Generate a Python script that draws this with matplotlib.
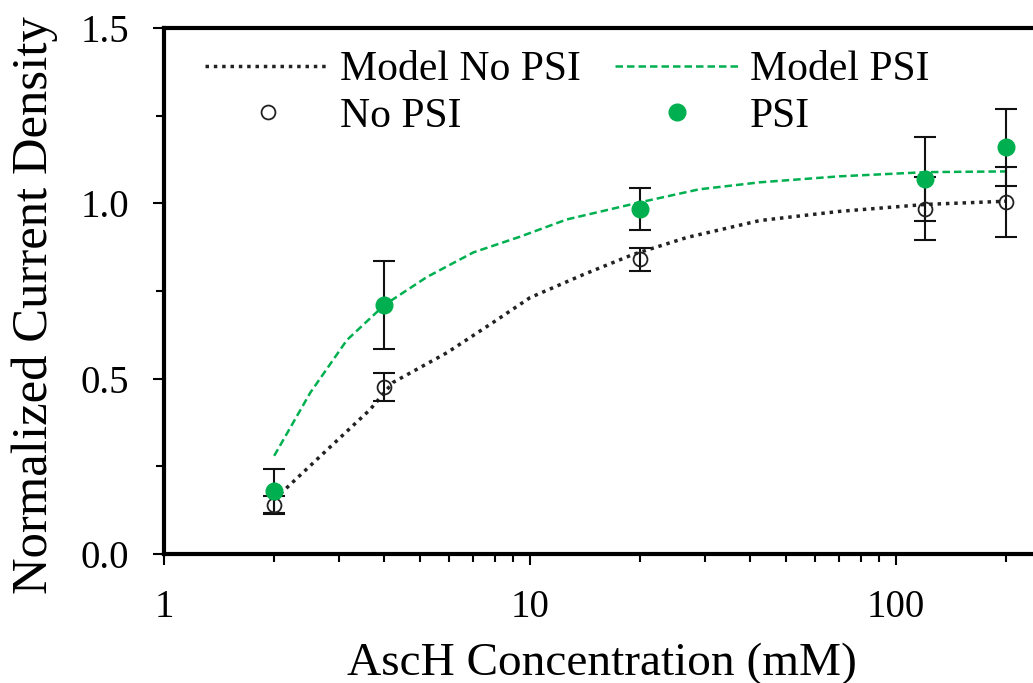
import numpy as np
import matplotlib
matplotlib.use('Agg')
import matplotlib.pyplot as plt
from matplotlib.ticker import FixedLocator, FixedFormatter, LogLocator, MultipleLocator, FormatStrFormatter

plt.rcParams['font.family'] = ['Liberation Serif', 'DejaVu Serif']

# measured data
conc = [2, 4, 20, 120, 200]
no_psi = [0.14, 0.475, 0.84, 0.985, 1.003]
no_psi_err = [0.025, 0.04, 0.033, 0.09, 0.10]
psi = [0.18, 0.71, 0.983, 1.07, 1.16]
psi_err = [0.063, 0.125, 0.06, 0.12, 0.11]

# model curves
model_no_x = [2, 2.79, 3.65, 4.22, 5.93, 7.92, 10, 14, 19.1, 26.9, 42.5, 70, 121, 200]
model_no_y = [0.155, 0.297, 0.411, 0.489, 0.574, 0.66, 0.731, 0.797, 0.854, 0.903, 0.951, 0.977, 0.997, 1.006]
model_psi_x = [2, 2.51, 3.16, 4.0, 5.23, 7.0, 9.4, 12.6, 20, 29, 42.5, 70, 121, 200]
model_psi_y = [0.28, 0.46, 0.61, 0.71, 0.79, 0.86, 0.905, 0.954, 1.003, 1.04, 1.06, 1.077, 1.089, 1.091]

green = '#00b050'

fig = plt.figure(figsize=(10.33, 6.83), dpi=100)
ax = fig.add_axes([164/1033, 1-554/683, 876/1033, 526/683])

l1, = ax.plot(model_no_x, model_no_y, color='#222222', lw=2.5, ls=(0, (1, 1.4)), label='Model No PSI')
l2, = ax.plot(model_psi_x, model_psi_y, color=green, lw=1.8, ls=(0, (3, 1.6)), label='Model PSI')

ax.errorbar(conc, no_psi, yerr=no_psi_err, fmt='none', ecolor='#111111', elinewidth=1.5, capsize=8, capthick=1.5, zorder=3)
ax.errorbar(conc, psi, yerr=psi_err, fmt='none', ecolor='#111111', elinewidth=1.5, capsize=8, capthick=1.5, zorder=3)
p1, = ax.plot(conc, no_psi, 'o', ms=10, mfc='none', mec='#222222', mew=1.3, ls='none', zorder=4, label='No PSI')
p2, = ax.plot(conc, psi, 'o', ms=12, mfc=green, mec=green, ls='none', zorder=5, label='PSI')

ax.set_xscale('log')
ax.set_xlim(1, 10**(876/366))
ax.set_ylim(0, 1.5)
ax.xaxis.set_major_locator(FixedLocator([1, 10, 100]))
ax.xaxis.set_major_formatter(FixedFormatter(['1', '10', '100']))
ax.xaxis.set_minor_locator(LogLocator(base=10, subs=np.arange(2, 10)))
ax.xaxis.set_minor_formatter(FixedFormatter([]))
ax.yaxis.set_major_locator(MultipleLocator(0.5))
ax.yaxis.set_minor_locator(MultipleLocator(0.25))
ax.yaxis.set_major_formatter(FormatStrFormatter('%.1f'))

for s in ['left', 'bottom', 'top']:
    ax.spines[s].set_linewidth(3)
ax.spines['right'].set_visible(False)
ax.tick_params(which='major', direction='out', length=8, width=1.5, labelsize=28)
ax.tick_params(which='minor', direction='out', length=6, width=1.5)
ax.tick_params(axis='x', which='major', pad=17)
ax.tick_params(axis='y', which='major', pad=17)

ax.set_xlabel('AscH Concentration (mM)', fontsize=34, labelpad=12)
ax.set_ylabel('Normalized Current Density', fontsize=36.5)
ax.yaxis.set_label_coords(-0.121, 0.473)

ax.legend(handles=[l1, p1, l2, p2], ncol=2, loc='upper left', frameon=False, fontsize=30,
          handlelength=3.0, handletextpad=0.25, columnspacing=0.8, labelspacing=0.2,
          bbox_to_anchor=(41/876, 0.957), borderaxespad=0, borderpad=0)

fig.savefig('out.png', dpi=100)
